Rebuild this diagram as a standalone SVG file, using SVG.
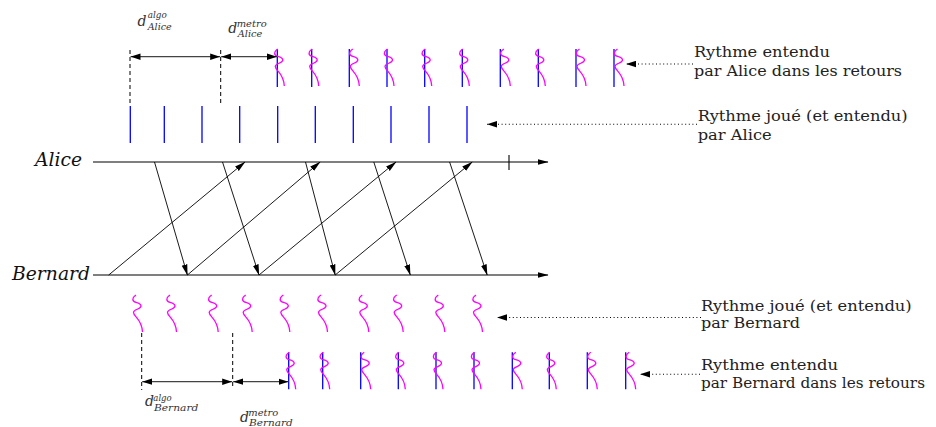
<svg xmlns="http://www.w3.org/2000/svg" width="936" height="427" viewBox="0 0 936 427">
<style>
.ax{stroke:#000;stroke-width:1.1;fill:none}
.msg{stroke:#000;stroke-width:0.9;fill:none}
.tick{stroke:#00f;stroke-width:1.3}
.sq{stroke:#f0f;stroke-width:1.3;fill:none}
.dash{stroke:#000;stroke-width:1;stroke-dasharray:4,3;fill:none}
.dim{stroke:#444;stroke-width:1.2;fill:none}
.dot{stroke:#000;stroke-width:1.1;stroke-dasharray:1,2.6;fill:none}
text{font-family:"DejaVu Serif","Liberation Serif",serif}
.lab{font-size:15.5px;fill:#222}
.name{font-style:italic;font-size:18px;fill:#111}
.d{font-style:italic;font-size:14px;fill:#333}
.s{font-style:italic;font-size:9px;fill:#333}
</style>
<defs>
<marker id="ah" markerUnits="userSpaceOnUse" viewBox="0 0 11 7" markerWidth="11" markerHeight="7" refX="10.5" refY="3.5" orient="auto-start-reverse"><path d="M0,0.6 L11,3.5 L0,6.4 z" fill="#000"/></marker>
<marker id="dh" markerUnits="userSpaceOnUse" viewBox="0 0 10 7" markerWidth="10" markerHeight="7" refX="10" refY="3.5" orient="auto-start-reverse"><path d="M0,0.3 L10,3.5 L0,6.7 z" fill="#000"/></marker>
<path id="sq" class="sq" d="M0,0 C-2.5,1.5 -4,4 -2.5,6 C-1,8 5,7.5 5,11 C5,14.5 -2.5,14 -2.5,17.5 C-2.5,21.5 6,24 6.5,37"/>
</defs>

<g id="alice-timeline">
<line class="ax" x1="93" y1="162" x2="548" y2="162" marker-end="url(#ah)"/>
<line class="ax" x1="509" y1="155" x2="509" y2="170"/>
<text class="name" x="35" y="166" textLength="47" lengthAdjust="spacingAndGlyphs">Alice</text>
</g>

<g id="bernard-timeline">
<line class="ax" x1="93" y1="275" x2="548" y2="275" marker-end="url(#ah)"/>
<text class="name" x="12" y="280" textLength="78" lengthAdjust="spacingAndGlyphs">Bernard</text>
</g>

<g id="connectors">
<line class="msg" x1="154.5" y1="162" x2="187.4" y2="275" marker-end="url(#ah)"/>
<line class="msg" x1="222.5" y1="162" x2="259" y2="275" marker-end="url(#ah)"/>
<line class="msg" x1="305.5" y1="162" x2="335.2" y2="275" marker-end="url(#ah)"/>
<line class="msg" x1="373.8" y1="162" x2="410.3" y2="275" marker-end="url(#ah)"/>
<line class="msg" x1="449.6" y1="162" x2="487.2" y2="275" marker-end="url(#ah)"/>
<line class="msg" x1="108.7" y1="275" x2="245" y2="162" marker-end="url(#ah)"/>
<line class="msg" x1="187.4" y1="275" x2="320.1" y2="162" marker-end="url(#ah)"/>
<line class="msg" x1="259" y1="275" x2="396" y2="162" marker-end="url(#ah)"/>
<line class="msg" x1="335.2" y1="275" x2="472.2" y2="162" marker-end="url(#ah)"/>
</g>

<g id="alice-played">
<line class="tick" x1="130.3" y1="106" x2="130.3" y2="143"/>
<line class="tick" x1="164.3" y1="106" x2="164.3" y2="143"/>
<line class="tick" x1="202" y1="106" x2="202" y2="143"/>
<line class="tick" x1="239.7" y1="106" x2="239.7" y2="143"/>
<line class="tick" x1="277.7" y1="106" x2="277.7" y2="143"/>
<line class="tick" x1="315.3" y1="106" x2="315.3" y2="143"/>
<line class="tick" x1="353.3" y1="106" x2="353.3" y2="143"/>
<line class="tick" x1="391" y1="106" x2="391" y2="143"/>
<line class="tick" x1="429" y1="106" x2="429" y2="143"/>
<line class="tick" x1="467" y1="106" x2="467" y2="143"/>
</g>

<g id="alice-heard">
<line class="tick" x1="277.3" y1="49" x2="277.3" y2="87"/><use href="#sq" x="277.8" y="49"/>
<line class="tick" x1="311.7" y1="49" x2="311.7" y2="87"/><use href="#sq" x="312.2" y="49"/>
<line class="tick" x1="349.3" y1="49" x2="349.3" y2="87"/><use href="#sq" x="352.8" y="49"/>
<line class="tick" x1="387" y1="49" x2="387" y2="87"/><use href="#sq" x="387.5" y="49"/>
<line class="tick" x1="424.7" y1="49" x2="424.7" y2="87"/><use href="#sq" x="425.2" y="49"/>
<line class="tick" x1="462.3" y1="49" x2="462.3" y2="87"/><use href="#sq" x="462.8" y="49"/>
<line class="tick" x1="500.3" y1="49" x2="500.3" y2="87"/><use href="#sq" x="503.8" y="49"/>
<line class="tick" x1="538.3" y1="49" x2="538.3" y2="87"/><use href="#sq" x="538.8" y="49"/>
<line class="tick" x1="576" y1="49" x2="576" y2="87"/><use href="#sq" x="579.5" y="49"/>
<line class="tick" x1="614" y1="49" x2="614" y2="87"/><use href="#sq" x="617.5" y="49"/>
</g>

<g id="bernard-played">
<use href="#sq" x="136" y="295"/>
<use href="#sq" x="170" y="295"/>
<use href="#sq" x="211.7" y="295"/>
<use href="#sq" x="245.7" y="295"/>
<use href="#sq" x="283.3" y="295"/>
<use href="#sq" x="321" y="295"/>
<use href="#sq" x="362.3" y="295"/>
<use href="#sq" x="396.7" y="295"/>
<use href="#sq" x="438.3" y="295"/>
<use href="#sq" x="476" y="295"/>
</g>

<g id="bernard-heard">
<line class="tick" x1="288.7" y1="352.3" x2="288.7" y2="389.3"/><use href="#sq" x="289.2" y="352.3"/>
<line class="tick" x1="322.7" y1="352.3" x2="322.7" y2="389.3"/><use href="#sq" x="323.2" y="352.3"/>
<line class="tick" x1="360.7" y1="352.3" x2="360.7" y2="389.3"/><use href="#sq" x="364.2" y="352.3"/>
<line class="tick" x1="398.3" y1="352.3" x2="398.3" y2="389.3"/><use href="#sq" x="398.8" y="352.3"/>
<line class="tick" x1="436" y1="352.3" x2="436" y2="389.3"/><use href="#sq" x="436.5" y="352.3"/>
<line class="tick" x1="474" y1="352.3" x2="474" y2="389.3"/><use href="#sq" x="474.5" y="352.3"/>
<line class="tick" x1="512.3" y1="352.3" x2="512.3" y2="389.3"/><use href="#sq" x="515.8" y="352.3"/>
<line class="tick" x1="549.3" y1="352.3" x2="549.3" y2="389.3"/><use href="#sq" x="549.8" y="352.3"/>
<line class="tick" x1="587.3" y1="352.3" x2="587.3" y2="389.3"/><use href="#sq" x="590.8" y="352.3"/>
<line class="tick" x1="625.7" y1="352.3" x2="625.7" y2="389.3"/><use href="#sq" x="629.2" y="352.3"/>
</g>

<g id="alice-delays">
<line class="dash" x1="130" y1="50" x2="130" y2="105"/>
<line class="dash" x1="220.7" y1="50" x2="220.7" y2="104"/>
<line class="dim" x1="130.5" y1="56.7" x2="220.2" y2="56.7" marker-start="url(#dh)" marker-end="url(#dh)"/>
<line class="dim" x1="221.2" y1="56.7" x2="277" y2="56.7" marker-start="url(#dh)" marker-end="url(#dh)"/>
<text class="d" x="137.5" y="26">d</text>
<text class="s" x="147.7" y="18.3" textLength="19" lengthAdjust="spacingAndGlyphs">algo</text>
<text class="s" x="147.7" y="30" textLength="24" lengthAdjust="spacingAndGlyphs">Alice</text>
<text class="d" x="228.3" y="33.3">d</text>
<text class="s" x="236.7" y="26.7" textLength="30" lengthAdjust="spacingAndGlyphs">metro</text>
<text class="s" x="237.7" y="36.7" textLength="24.6" lengthAdjust="spacingAndGlyphs">Alice</text>
</g>

<g id="bernard-delays">
<line class="dash" x1="141.7" y1="333" x2="141.7" y2="390"/>
<line class="dash" x1="232.7" y1="333" x2="232.7" y2="388"/>
<line class="dim" x1="142.2" y1="381.7" x2="232.2" y2="381.7" marker-start="url(#dh)" marker-end="url(#dh)"/>
<line class="dim" x1="233.2" y1="381.7" x2="288.5" y2="381.7" marker-start="url(#dh)" marker-end="url(#dh)"/>
<text class="d" x="145" y="406">d</text>
<text class="s" x="153.3" y="400.7" textLength="18.4" lengthAdjust="spacingAndGlyphs">algo</text>
<text class="s" x="154" y="411" textLength="44.3" lengthAdjust="spacingAndGlyphs">Bernard</text>
<text class="d" x="240" y="421.5">d</text>
<text class="s" x="248.3" y="415.5" textLength="30" lengthAdjust="spacingAndGlyphs">metro</text>
<text class="s" x="249" y="426" textLength="43.7" lengthAdjust="spacingAndGlyphs">Bernard</text>
</g>

<g id="legend-alice-heard">
<line class="dot" x1="693" y1="64" x2="626" y2="64" marker-end="url(#dh)"/>
<text class="lab" x="694" y="56.7" textLength="136" lengthAdjust="spacingAndGlyphs">Rythme entendu</text>
<text class="lab" x="694" y="75.5" textLength="208" lengthAdjust="spacingAndGlyphs">par Alice dans les retours</text>
</g>

<g id="legend-alice-played">
<line class="dot" x1="697" y1="124.3" x2="487" y2="124.3" marker-end="url(#dh)"/>
<text class="lab" x="697.7" y="120.7" textLength="210" lengthAdjust="spacingAndGlyphs">Rythme joué (et entendu)</text>
<text class="lab" x="697.7" y="140" textLength="74" lengthAdjust="spacingAndGlyphs">par Alice</text>
</g>

<g id="legend-bernard-played">
<line class="dot" x1="701" y1="317.5" x2="497" y2="317.5" marker-end="url(#dh)"/>
<text class="lab" x="701" y="310.7" textLength="210.7" lengthAdjust="spacingAndGlyphs">Rythme joué (et entendu)</text>
<text class="lab" x="701" y="328.3" textLength="99" lengthAdjust="spacingAndGlyphs">par Bernard</text>
</g>

<g id="legend-bernard-heard">
<line class="dot" x1="700" y1="374.3" x2="640" y2="374.3" marker-end="url(#dh)"/>
<text class="lab" x="701" y="370" textLength="137" lengthAdjust="spacingAndGlyphs">Rythme entendu</text>
<text class="lab" x="701" y="388.3" textLength="224" lengthAdjust="spacingAndGlyphs">par Bernard dans les retours</text>
</g>
</svg>
